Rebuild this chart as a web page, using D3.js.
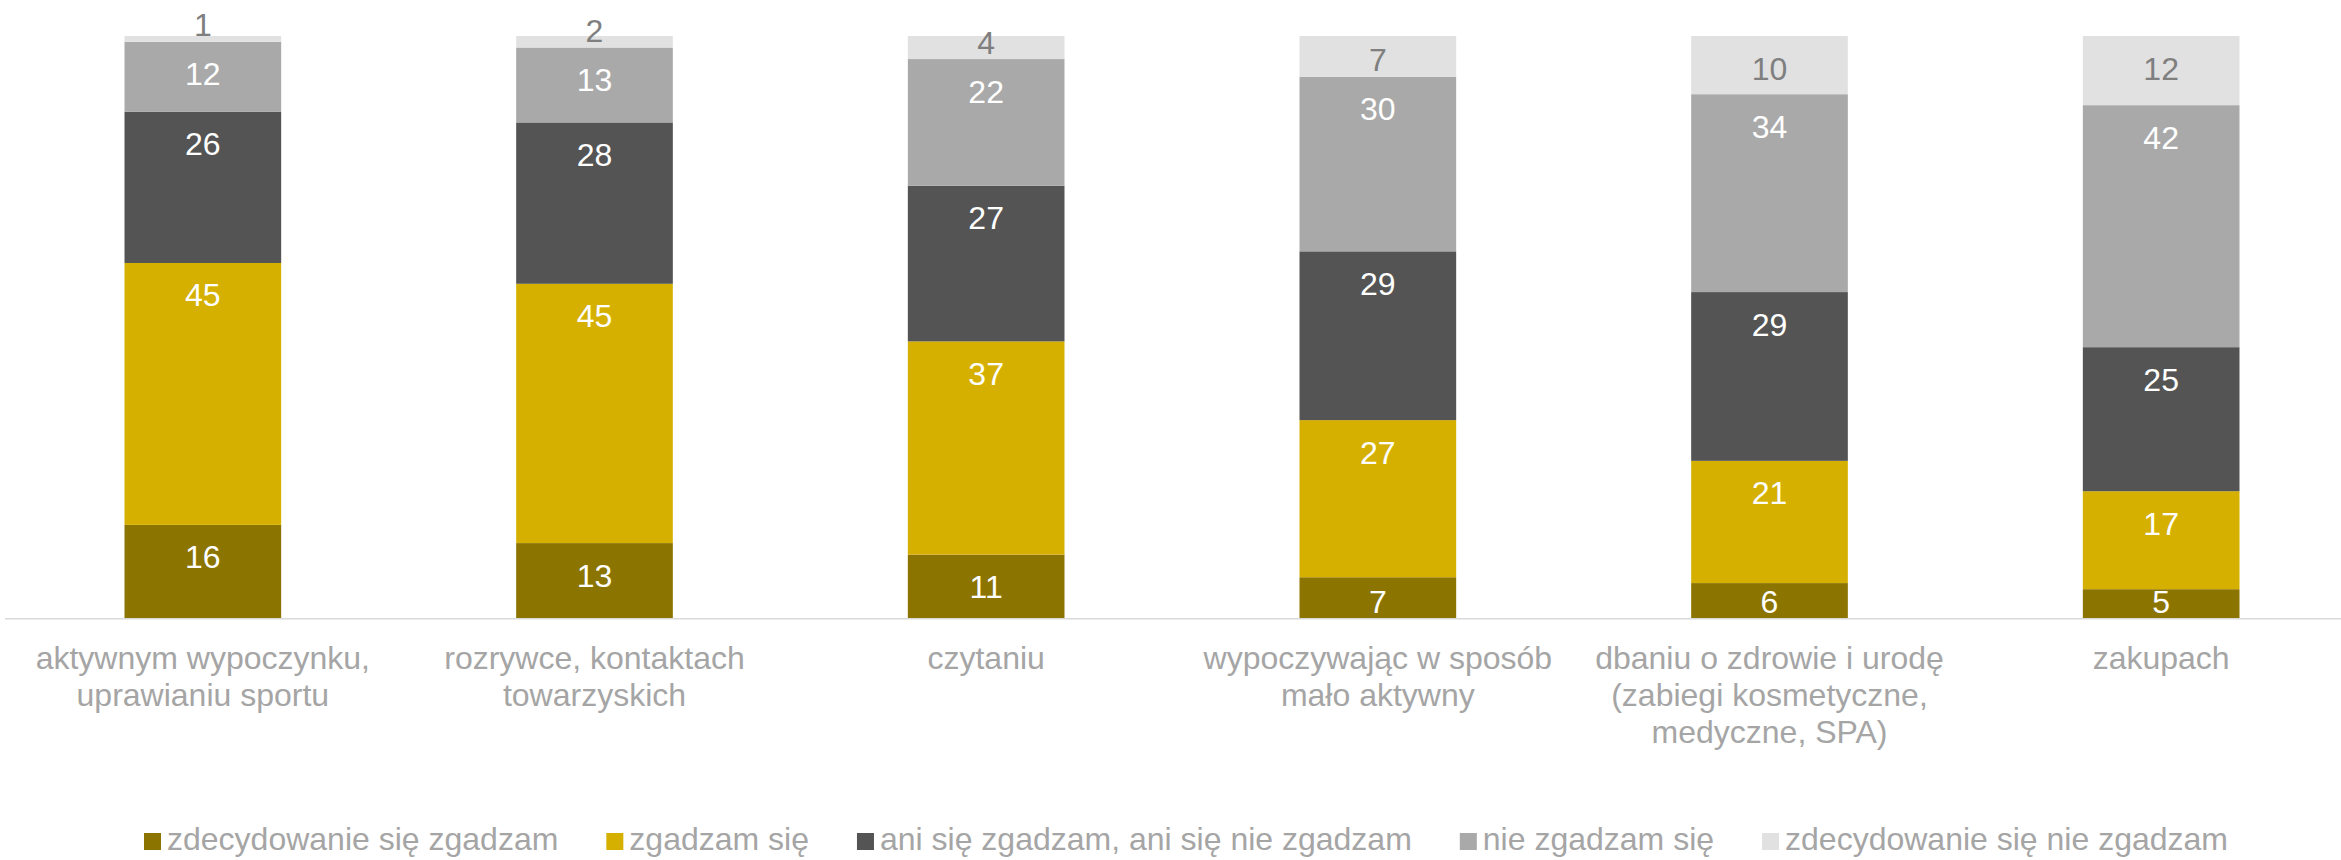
<!DOCTYPE html>
<html>
<head>
<meta charset="utf-8">
<script src="https://cdn.jsdelivr.net/npm/d3@7/dist/d3.min.js"></script>
<style>
  html, body { margin: 0; padding: 0; background: #ffffff; }
  svg { display: block; font-family: "Liberation Sans", Arial, sans-serif; }
</style>
</head>
<body>
<svg id="chart" width="2341" height="860"></svg>
<script>
// Categories (line breaks mark wrapped axis labels)
const categories = [
  "aktywnym wypoczynku,\nuprawianiu sportu",
  "rozrywce, kontaktach\ntowarzyskich",
  "czytaniu",
  "wypoczywając w sposób\nmało aktywny",
  "dbaniu o zdrowie i urodę\n(zabiegi kosmetyczne,\nmedyczne, SPA)",
  "zakupach"
];

// Series names, bottom to top of each stack
const seriesNames = [
  "zdecydowanie się zgadzam",
  "zgadzam się",
  "ani się zgadzam, ani się nie zgadzam",
  "nie zgadzam się",
  "zdecydowanie się nie zgadzam"
];

// Percentages per series, one value per category
const stronglyAgree    = [16, 13, 11, 7, 6, 5];
const agree            = [45, 45, 37, 27, 21, 17];
const neutral          = [26, 28, 27, 29, 29, 25];
const disagree         = [12, 13, 22, 30, 34, 42];
const stronglyDisagree = [1, 2, 4, 7, 10, 12];

const seriesValues = [stronglyAgree, agree, neutral, disagree, stronglyDisagree];
const seriesColors = ["#8c7400", "#d5b000", "#545454", "#a9a9a9", "#e1e1e1"];
const labelColors  = ["#ffffff", "#ffffff", "#ffffff", "#ffffff", "#7f7f7f"];

// Rows for d3.stack
const rows = categories.map((c, i) => {
  const r = { category: c };
  seriesNames.forEach((s, k) => { r[s] = seriesValues[k][i]; });
  return r;
});

const svg = d3.select("#chart");
const W = 2341;
const FONT = 32;

const x = d3.scaleBand()
  .domain(categories)
  .range([7, 2357])
  .paddingInner(0.6)
  .paddingOuter(0.3);

const y = d3.scaleLinear()
  .domain([0, 1])
  .range([618, 36]);

// 100% stacked layout
const stack = d3.stack()
  .keys(seriesNames)
  .offset(d3.stackOffsetExpand);
const layers = stack(rows);

// Baseline
svg.append("line")
  .attr("x1", 5).attr("x2", W)
  .attr("y1", 618.75).attr("y2", 618.75)
  .attr("stroke", "#d9d9d9")
  .attr("stroke-width", 1.5);

// Stacked segments
const layerG = svg.selectAll("g.layer")
  .data(layers)
  .join("g")
  .attr("class", "layer")
  .attr("fill", (d, i) => seriesColors[i]);

layerG.selectAll("rect")
  .data(d => d)
  .join("rect")
  .attr("x", d => x(d.data.category))
  .attr("width", x.bandwidth())
  .attr("y", d => y(d[1]))
  .attr("height", d => y(d[0]) - y(d[1]));

// Value labels, placed at the inside end of each segment
const labelG = svg.append("g")
  .attr("font-size", FONT)
  .attr("text-anchor", "middle");

layers.forEach((layer, k) => {
  labelG.selectAll(null)
    .data(layer)
    .join("text")
    .attr("fill", labelColors[k])
    .attr("x", d => x(d.data.category) + x.bandwidth() / 2)
    .attr("y", d => {
      const top = y(d[1]);
      const bottom = y(d[0]);
      const center = Math.min(top + 32, bottom - 17);
      return center + 11.5;
    })
    .text(d => d.data[layer.key]);
});

// Category labels
const catG = svg.append("g")
  .attr("font-size", FONT)
  .attr("fill", "#a5a5a5")
  .attr("text-anchor", "middle");

categories.forEach(c => {
  const t = catG.append("text")
    .attr("x", x(c) + x.bandwidth() / 2)
    .attr("y", 669);
  c.split("\n").forEach((line, j) => {
    t.append("tspan")
      .attr("x", x(c) + x.bandwidth() / 2)
      .attr("dy", j === 0 ? 0 : 37)
      .text(line);
  });
});

// Legend
const legend = svg.append("g").attr("font-size", FONT).attr("fill", "#a5a5a5");
let lx = 144;
const legendBaseline = 850;
seriesNames.forEach((name, k) => {
  legend.append("rect")
    .attr("x", lx)
    .attr("y", legendBaseline - 17)
    .attr("width", 17)
    .attr("height", 17)
    .attr("fill", seriesColors[k]);
  const t = legend.append("text")
    .attr("x", lx + 23)
    .attr("y", legendBaseline)
    .text(name);
  const w = t.node().getComputedTextLength();
  lx += 23 + w + 48;
});
</script>
</body>
</html>
